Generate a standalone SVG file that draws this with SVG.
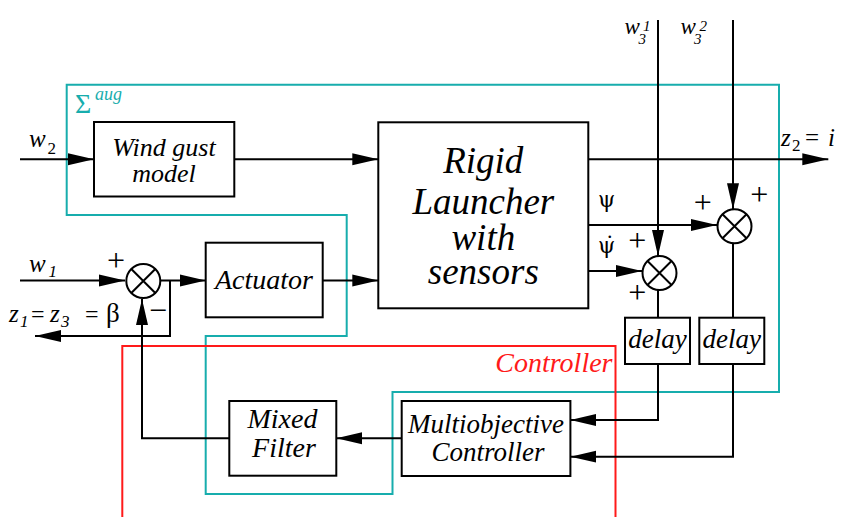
<svg xmlns="http://www.w3.org/2000/svg" width="842" height="517" viewBox="0 0 842 517" font-family="'Liberation Serif', 'Times New Roman', serif">
<defs>
<marker id="arr" markerUnits="userSpaceOnUse" markerWidth="27" markerHeight="13" refX="26" refY="6.5" orient="auto">
<path d="M0,0.5 L26,6.5 L0,12.5 z" fill="#000"/>
</marker>
<style>
.box{fill:#fff;stroke:#000;stroke-width:2}
.ln{fill:none;stroke:#000;stroke-width:2}
.arrow{fill:none;stroke:#000;stroke-width:2;marker-end:url(#arr)}
.sum{fill:#fff;stroke:#000;stroke-width:2}
.x{stroke:#000;stroke-width:2}
.t{font-family:'Liberation Serif', serif;font-style:italic;fill:#000}
.u{font-family:'Liberation Serif', serif;font-style:normal;fill:#000}
.g{font-family:'DejaVu Serif', serif;font-style:normal;fill:#000}
.c{text-anchor:middle}
.cyan{fill:none;stroke:#17adad;stroke-width:2}
.red{fill:none;stroke:#ff1a1a;stroke-width:2}
</style>
</defs>
<rect width="842" height="517" fill="#fff"/>

<g id="sigma-aug">
<path class="cyan" d="M66.7,84.7 H779 V392 H392.5 V494 H205.7 V336 H346.7 V215 H66.7 Z"/>
<text x="75" y="113" class="u" font-size="28" style="fill:#17adad">Σ</text>
<text x="95" y="100" class="t" font-size="18" style="fill:#17adad">aug</text>
</g>

<g id="controller-region">
<path class="red" d="M122.3,520 V346 H615.5 V520"/>
<text x="612.5" y="372.3" class="t" font-size="28" text-anchor="end" style="fill:#ff1a1a">Controller</text>
</g>

<g id="connectors">
<path class="arrow" d="M20,159.3 H94"/>
<path class="arrow" d="M234.3,159.3 H378.3"/>
<path class="arrow" d="M20,280.5 H125"/>
<path class="arrow" d="M160.3,280.5 H205.7"/>
<path class="arrow" d="M170,280.5 V336 H35"/>
<path class="arrow" d="M322.7,280.5 H378.3"/>
<path class="arrow" d="M588.3,159.3 H828.3"/>
<path class="arrow" d="M588.3,225 H717"/>
<path class="arrow" d="M588.3,271 H642"/>
<path class="arrow" d="M658,20 V256"/>
<path class="arrow" d="M733,20 V209.3"/>
<path class="ln" d="M658,290 V317.7"/>
<path class="ln" d="M733,243 V317.7"/>
<path class="arrow" d="M658,364 V420 H570.4"/>
<path class="arrow" d="M733,364 V456.7 H570.4"/>
<path class="arrow" d="M401.7,438.3 H336.3"/>
<path class="arrow" d="M229.3,438.3 H142 V299"/>
</g>

<g id="windgust">
<rect class="box" x="94" y="122" width="140.3" height="74.5"/>
<text class="t c" x="164" y="156" font-size="26">Wind gust</text>
<text class="t c" x="164" y="181.7" font-size="26">model</text>
</g>

<g id="actuator">
<rect class="box" x="205.7" y="242.7" width="117" height="74.6"/>
<text class="t c" x="264" y="289.3" font-size="28">Actuator</text>
</g>

<g id="rigid">
<rect class="box" x="378.3" y="122.3" width="210" height="186"/>
<text class="t c" x="483.3" y="173.3" font-size="37">Rigid</text>
<text class="t c" x="483.3" y="214" font-size="37">Launcher</text>
<text class="t c" x="483.3" y="250" font-size="37">with</text>
<text class="t c" x="483.3" y="284" font-size="37">sensors</text>
</g>

<g id="sum-input">
<circle class="sum" cx="143.3" cy="281" r="17"/>
<path class="x" d="M131.3,269 L155.3,293 M155.3,269 L131.3,293"/>
<text class="u c" x="116" y="271" font-size="32">+</text>
<text class="u c" x="158" y="321" font-size="32">−</text>
</g>

<g id="sum-psidot">
<circle class="sum" cx="659.5" cy="273" r="17"/>
<path class="x" d="M647.5,261 L671.5,285 M671.5,261 L647.5,285"/>
<text class="u c" x="637.3" y="251" font-size="32">+</text>
<text class="u c" x="637.3" y="303.3" font-size="32">+</text>
</g>

<g id="sum-psi">
<circle class="sum" cx="734.5" cy="226.3" r="17"/>
<path class="x" d="M722.5,214.3 L746.5,238.3 M746.5,214.3 L722.5,238.3"/>
<text class="u c" x="702.7" y="213.3" font-size="32">+</text>
<text class="u c" x="759.3" y="205" font-size="32">+</text>
</g>

<g id="delay1">
<rect class="box" x="625" y="317.7" width="65" height="46.3"/>
<text class="t c" x="657.5" y="348.3" font-size="27">delay</text>
</g>

<g id="delay2">
<rect class="box" x="699.3" y="317.7" width="65" height="46.3"/>
<text class="t c" x="731.8" y="348.3" font-size="27">delay</text>
</g>

<g id="multiobjective">
<rect class="box" x="401.7" y="401" width="168.7" height="75"/>
<text class="t c" x="486" y="432.7" font-size="27">Multiobjective</text>
<text class="t c" x="488" y="460.7" font-size="27">Controller</text>
</g>

<g id="mixedfilter">
<rect class="box" x="229.3" y="401" width="107" height="74.7"/>
<text class="t c" x="282.5" y="428.3" font-size="28">Mixed</text>
<text class="t c" x="284" y="456.7" font-size="28">Filter</text>
</g>

<g id="labels">
<text class="t" x="29" y="146.7" font-size="25">w</text>
<text class="u" x="47.5" y="154" font-size="17">2</text>
<text class="t" x="29" y="272" font-size="25">w</text>
<text class="t" x="48.5" y="277" font-size="17">1</text>
<text class="t" x="9" y="322" font-size="25">z</text>
<text class="t" x="20" y="327" font-size="17">1</text>
<text class="u" x="31" y="322" font-size="24">=</text>
<text class="t" x="50" y="322" font-size="25">z</text>
<text class="t" x="61" y="327" font-size="17">3</text>
<text class="u" x="85" y="322" font-size="24">=</text>
<text class="u" x="106" y="322" font-size="27">β</text>
<text class="t" x="624.5" y="33.5" font-size="23">w</text>
<text class="t" x="643" y="30.5" font-size="15">1</text>
<text class="t" x="638.5" y="43.5" font-size="15">3</text>
<text class="t" x="680.5" y="33.5" font-size="23">w</text>
<text class="t" x="699.5" y="30.5" font-size="15">2</text>
<text class="t" x="694" y="43.5" font-size="15">3</text>
<text class="t" x="781" y="146" font-size="25">z</text>
<text class="u" x="792" y="151" font-size="17">2</text>
<text class="u" x="805" y="146" font-size="25">=</text>
<text class="t" x="828" y="146" font-size="25">i</text>
<text class="g" x="598" y="207" font-size="22">ψ</text>
<text class="g" x="598" y="253" font-size="22">ψ̇</text>
</g>
</svg>
